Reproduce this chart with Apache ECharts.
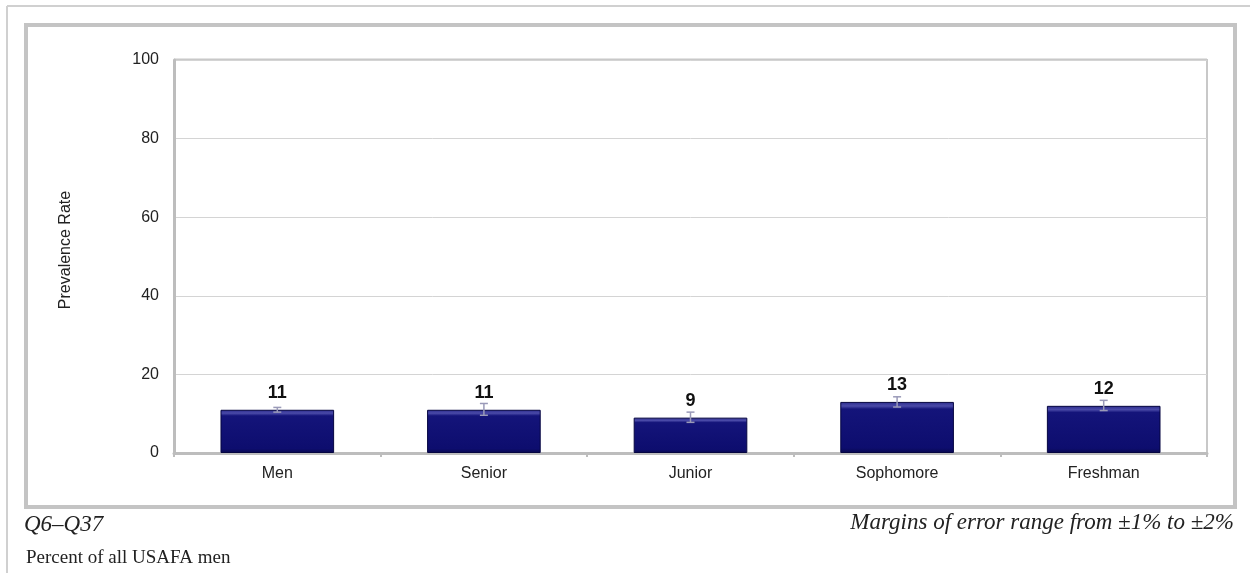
<!DOCTYPE html>
<html><head><meta charset="utf-8">
<script src="https://cdn.jsdelivr.net/npm/echarts@6/dist/echarts.min.js"></script>
<style>html,body{margin:0;padding:0;background:#fff}#c{width:1250px;height:573px}</style>
</head><body><div id="c"></div>
<script>
const categories = ['Men', 'Senior', 'Junior', 'Sophomore', 'Freshman'];
const values = [11, 11, 9, 13, 12];
const errLow = [10.4, 9.6, 7.8, 11.7, 10.8];
const errHigh = [11.6, 12.6, 10.4, 14.3, 13.4];
const yTicks = [0, 20, 40, 60, 80, 100];

const chart = echarts.init(document.getElementById('c'));
const errData = categories.map((c, i) => [i, errLow[i], errHigh[i]]);
chart.setOption({
  animation: false,
  backgroundColor: '#fff',
  grid: { left: 174, right: 43, top: 60, bottom: 120 },
  xAxis: {
    type: 'category', data: categories,
    axisLine: { lineStyle: { color: '#bdbdbd', width: 3 } },
    axisTick: { show: true, alignWithLabel: false, length: 4, lineStyle: { color: '#bdbdbd', width: 2 } },
    axisLabel: { color: '#222', fontSize: 16, fontFamily: 'Liberation Sans, Arial', margin: 13 }
  },
  yAxis: {
    type: 'value', min: 0, max: 100, interval: 20,
    axisLine: { show: true, lineStyle: { color: '#bdbdbd', width: 3 } },
    axisTick: { show: false },
    splitLine: { lineStyle: { color: '#d4d4d4', width: 1 } },
    axisLabel: { color: '#222', fontSize: 16, fontFamily: 'Liberation Sans, Arial', margin: 15,
      formatter: v => yTicks.includes(v) ? String(v) : '' }
  },
  series: [
    {
      type: 'bar', data: values, barWidth: '55%',
      itemStyle: {
        color: new echarts.graphic.LinearGradient(0, 0, 0, 1, [
          { offset: 0, color: '#2a2a8c' }, { offset: 0.08, color: '#4a4aa8' },
          { offset: 0.14, color: '#14147a' }, { offset: 0.9, color: '#0d0d6e' },
          { offset: 1, color: '#08084e' }
        ]),
        borderColor: '#050540', borderWidth: 1
      },
      label: { show: true, position: 'top', distance: 8, color: '#111', fontSize: 18,
        fontWeight: 'bold', fontFamily: 'Liberation Sans, Arial' },
      z: 2
    },
    {
      type: 'custom', data: errData, z: 5,
      renderItem: function (params, api) {
        const x = api.coord([api.value(0), 0])[0];
        const lo = api.coord([api.value(0), api.value(1)])[1];
        const hi = api.coord([api.value(0), api.value(2)])[1];
        const st = { stroke: '#9a9ab8', lineWidth: 1.5 };
        return { type: 'group', children: [
          { type: 'line', shape: { x1: x, y1: lo, x2: x, y2: hi }, style: st },
          { type: 'line', shape: { x1: x - 4, y1: lo, x2: x + 4, y2: lo }, style: st },
          { type: 'line', shape: { x1: x - 4, y1: hi, x2: x + 4, y2: hi }, style: st }
        ]};
      }
    }
  ],
  graphic: [
    { type: 'line', shape: { x1: 7, y1: 6, x2: 1250, y2: 6 }, style: { stroke: '#d0d0d0', lineWidth: 2 } },
    { type: 'line', shape: { x1: 7, y1: 6, x2: 7, y2: 573 }, style: { stroke: '#d0d0d0', lineWidth: 2 } },
    { type: 'rect', shape: { x: 26, y: 25, width: 1209, height: 482 }, style: { fill: 'none', stroke: '#c4c4c4', lineWidth: 4 }, z: -1 },
    { type: 'line', shape: { x1: 174, y1: 59.5, x2: 1207, y2: 59.5 }, style: { stroke: '#c8c8c8', lineWidth: 2 } },
    { type: 'line', shape: { x1: 1207, y1: 59, x2: 1207, y2: 453 }, style: { stroke: '#c8c8c8', lineWidth: 2 } },
    { type: 'text', x: 66, y: 250, rotation: Math.PI / 2,
      style: { text: 'Prevalence Rate', font: '16px "Liberation Sans", Arial, sans-serif', fill: '#222', align: 'center', verticalAlign: 'middle' } },
    { type: 'text', left: 24, top: 513, style: { text: 'Q6\u2013Q37', font: 'italic 23px "Liberation Serif", "Times New Roman", serif', fill: '#222' } },
    { type: 'text', left: 26, top: 549, style: { text: 'Percent of all USAFA men', font: '19px "Liberation Serif", "Times New Roman", serif', fill: '#222' } },
    { type: 'text', right: 16, top: 511, style: { text: 'Margins of error range from \u00b11% to \u00b12%', font: 'italic 23px "Liberation Serif", "Times New Roman", serif', fill: '#222' } }
  ]
});
</script></body></html>
